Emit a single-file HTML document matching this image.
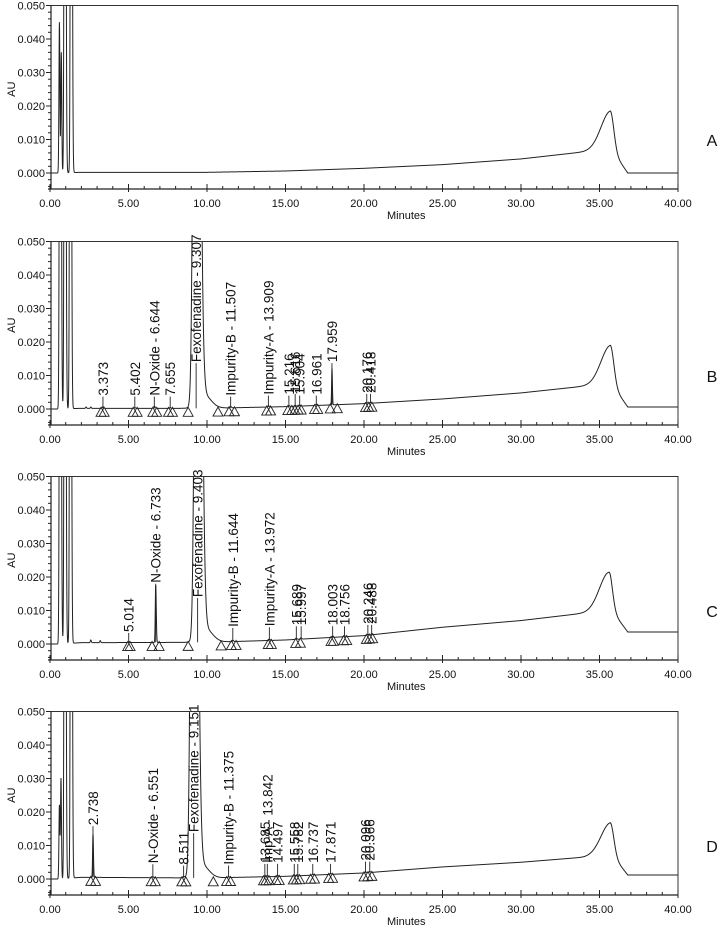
<!DOCTYPE html>
<html><head><meta charset="utf-8"><style>
html,body{margin:0;padding:0;background:#fff;}
svg{display:block;font-family:"Liberation Sans",sans-serif;}
</style></head><body>
<svg id="chart" width="724" height="925" viewBox="0 0 724 925" xmlns="http://www.w3.org/2000/svg"></svg>
<script>
const panelNames = ['A','B','C','D'];
const knotT = [0,0.5,2,10,15,20,25,30,34,35.7,36.8,40];
const A_knot = [0,0,0.0002,0.0002,0.0006,0.0014,0.0025,0.0042,0.0063,0.0075,0.0,0.0];
const B_knot = [0,0,0.0002,0.0002,0.0007,0.0016,0.003,0.0048,0.0068,0.008,0.0006,0.0006];
const C_knot = [0,0,0.0004,0.0005,0.0012,0.0025,0.005,0.007,0.0092,0.0105,0.0036,0.0036];
const D_knot = [0,0,0.0005,0.0003,0.0008,0.0018,0.0036,0.005,0.0065,0.0078,0.0012,0.0012];

const A_peakT = [0.6,0.72,0.95,1.35,35.7];
const A_peakH = [0.045,0.036,0.3,0.3,0.011];
const A_sL = [0.03,0.03,0.04,0.04,0.6];
const A_sR = [0.03,0.03,0.05,0.05,0.22];

const B_peakT = [0.65,0.95,1.3,2.3,2.6,3.373,5.402,6.644,7.655,9.307,9.8,11.507,13.909,15.216,15.616,15.904,16.961,17.959,20.176,20.418,35.7];
const B_peakH = [0.3,0.3,0.3,0.0004,0.0004,0.0005,0.0002,0.0006,0.0002,0.3,0.004,0.0004,0.0004,0.0003,0.0003,0.0003,0.0004,0.011,0.0003,0.0003,0.011];
const B_sL = [0.04,0.04,0.04,0.03,0.03,0.05,0.05,0.05,0.05,0.14,0.4,0.05,0.05,0.05,0.05,0.05,0.05,0.022,0.05,0.05,0.6];
const B_sR = [0.05,0.05,0.05,0.03,0.03,0.05,0.05,0.05,0.05,0.2,0.45,0.05,0.05,0.05,0.05,0.05,0.05,0.028,0.05,0.05,0.22];

const C_peakT = [0.65,0.95,1.3,2.6,3.2,5.014,6.733,9.403,9.9,11.644,13.972,15.689,15.997,18.003,18.756,20.246,20.488,35.6];
const C_peakH = [0.3,0.3,0.3,0.0008,0.0006,0.0003,0.0172,0.3,0.004,0.0004,0.0004,0.0003,0.0003,0.0003,0.0003,0.0003,0.0003,0.011];
const C_sL = [0.04,0.04,0.04,0.03,0.03,0.05,0.028,0.14,0.4,0.05,0.05,0.05,0.05,0.05,0.05,0.05,0.05,0.6];
const C_sR = [0.05,0.05,0.05,0.03,0.03,0.05,0.035,0.2,0.45,0.05,0.05,0.05,0.05,0.05,0.05,0.05,0.05,0.22];

const D_peakT = [0.6,0.7,0.95,1.35,2.738,6.551,8.511,9.151,9.65,11.375,13.685,13.842,14.497,15.558,15.782,16.737,17.871,20.096,20.366,35.7];
const D_peakH = [0.022,0.03,0.3,0.3,0.013,0.0003,0.0004,0.3,0.004,0.0003,0.0003,0.0003,0.0003,0.0003,0.0003,0.0003,0.0003,0.0003,0.0003,0.009];
const D_sL = [0.03,0.03,0.04,0.04,0.025,0.05,0.05,0.14,0.4,0.05,0.05,0.05,0.05,0.05,0.05,0.05,0.05,0.05,0.05,0.6];
const D_sR = [0.03,0.03,0.05,0.05,0.03,0.05,0.05,0.2,0.45,0.05,0.05,0.05,0.05,0.05,0.05,0.05,0.05,0.05,0.05,0.22];

const A_labT = [];
const A_lab = [];
const A_labH = [];
const A_marks = [];

const B_labT = [3.373,5.402,6.644,7.655,9.307,11.507,13.909,15.216,15.616,15.904,16.961,17.959,20.176,20.418];
const B_lab = ['3.373','5.402','N-Oxide - 6.644','7.655','Fexofenadine - 9.307','Impurity-B - 11.507','Impurity-A - 13.909','15.216','15.616','15.904','16.961','17.959','20.176','20.418'];
const B_labH = [0.0037,0.0037,0.0037,0.0037,0.0137,0.0037,0.004,0.004,0.0045,0.004,0.004,0.0137,0.0045,0.0045];
const B_marks = [3.25,3.45,5.3,5.55,6.55,6.8,7.55,7.8,8.8,10.7,11.4,11.75,13.8,14.05,15.15,15.4,15.6,15.8,16.0,16.85,17.05,17.85,18.3,20.1,20.3,20.5];

const C_labT = [5.014,6.733,9.403,11.644,13.972,15.689,15.997,18.003,18.756,20.246,20.488];
const C_lab = ['5.014','N-Oxide - 6.733','Fexofenadine - 9.403','Impurity-B - 11.644','Impurity-A - 13.972','15.689','15.997','18.003','18.756','20.246','20.488'];
const C_labH = [0.0033,0.018,0.0137,0.0048,0.005,0.0053,0.0053,0.0053,0.0053,0.0057,0.0057];
const C_marks = [4.95,5.1,6.5,6.95,8.8,10.9,11.55,11.85,13.9,14.1,15.65,15.95,17.9,18.05,18.7,18.9,20.15,20.35,20.55];

const D_labT = [2.738,6.551,8.511,9.151,11.375,13.685,13.842,14.497,15.558,15.782,16.737,17.871,20.096,20.366];
const D_lab = ['2.738','N-Oxide - 6.551','8.511','Fexofenadine - 9.151','Impurity-B - 11.375','13.685','Imp-A - 13.842','14.497','15.558','15.782','16.737','17.871','20.096','20.366'];
const D_labH = [0.0158,0.0044,0.004,0.0137,0.004,0.0045,0.0045,0.0045,0.0045,0.0045,0.0045,0.0045,0.0052,0.0052];
const D_marks = [2.6,2.9,6.45,6.7,8.4,8.65,10.4,11.25,11.5,13.6,13.75,13.95,14.4,14.6,15.5,15.7,15.9,16.6,16.85,17.75,18.0,20.0,20.25,20.5];

const xTicks = [0,5,10,15,20,25,30,35,40];
const xTickLabels = ['0.00','5.00','10.00','15.00','20.00','25.00','30.00','35.00','40.00'];
const yTicks = [0,0.01,0.02,0.03,0.04,0.05];
const yTickLabels = ['0.000','0.010','0.020','0.030','0.040','0.050'];

const P = {
  A:{knot:A_knot,pt:A_peakT,ph:A_peakH,sl:A_sL,sr:A_sR,lt:A_labT,l:A_lab,lh:A_labH,m:A_marks},
  B:{knot:B_knot,pt:B_peakT,ph:B_peakH,sl:B_sL,sr:B_sR,lt:B_labT,l:B_lab,lh:B_labH,m:B_marks},
  C:{knot:C_knot,pt:C_peakT,ph:C_peakH,sl:C_sL,sr:C_sR,lt:C_labT,l:C_lab,lh:C_labH,m:C_marks},
  D:{knot:D_knot,pt:D_peakT,ph:D_peakH,sl:D_sL,sr:D_sR,lt:D_labT,l:D_lab,lh:D_labH,m:D_marks}
};

const svg = document.getElementById('chart');
const NS = 'http://www.w3.org/2000/svg';
const X0 = 50, XS = 15.7, YS = 167.5/0.05;
const panelZero = [173,409,644,879];
function xs(t){ return X0 + t*XS; }
function mk(tag, attrs, parent){
  const e = document.createElementNS(NS, tag);
  for (const k in attrs) e.setAttribute(k, attrs[k]);
  (parent||svg).appendChild(e);
  return e;
}
function baseAt(knot, t){
  for (let i=0;i<knotT.length-1;i++){
    if (t>=knotT[i] && t<=knotT[i+1]){
      const f=(t-knotT[i])/(knotT[i+1]-knotT[i]);
      return knot[i]+f*(knot[i+1]-knot[i]);
    }
  }
  return knot[knot.length-1];
}
function signal(d, t){
  let v = baseAt(d.knot, t);
  for (let i=0;i<d.pt.length;i++){
    const dx = t-d.pt[i];
    const s = dx<0 ? d.sl[i] : d.sr[i];
    v += d.ph[i]*Math.exp(-dx*dx/(2*s*s));
  }
  return v;
}

panelNames.forEach((name, pi) => {
  const d = P[name];
  const y0 = panelZero[pi];
  const ys = v => y0 - v*YS;
  const yTop = ys(0.05);
  const axisY = y0 + 16;
  const g = mk('g', {});
  
  

  const clipId = 'clip' + name;
  const cp = mk('clipPath', {id: clipId}, g);
  mk('rect', {x: X0, y: yTop, width: xs(40)-X0, height: axisY-yTop}, cp);

  const frame = mk('path', {d:`M${X0+1},${yTop}H${xs(40)}V${axisY}`, fill:'none', stroke:'#333', 'stroke-width':1}, g);
  
  
  const yAxis = mk('line', {x1:X0+1, y1:yTop, x2:X0+1, y2:axisY, stroke:'#222', 'stroke-width':1.2}, g);
  
  
  const xAxis = mk('line', {x1:X0-2, y1:axisY, x2:xs(40), y2:axisY, stroke:'#222', 'stroke-width':1.2}, g);
  
  

  for (let t=0;t<=40;t++){
    const major = t%5===0;
    mk('line', {x1:xs(t), x2:xs(t), y1:axisY-(major?5:3), y2:axisY+(major?3:0), stroke:'#222', 'stroke-width':1}, g);
  }
  xTicks.forEach((t,i)=>{
    const tx = mk('text', {x:xs(t), y:axisY+18, 'font-size':11, 'text-anchor':'middle', fill:'#111'}, g);
    tx.textContent = xTickLabels[i];
    
    
  });
  const xt = mk('text', {x:xs(22.5)+3, y:axisY+30, 'font-size':11, 'text-anchor':'middle', fill:'#111'}, g);
  xt.textContent = 'Minutes';
  
  

  for (let k=-2;k<=25;k++){
    const v=k*0.002;
    const major = k%5===0;
    mk('line', {x1:X0+1-(major?5:3), x2:X0+1, y1:ys(v), y2:ys(v), stroke:'#222', 'stroke-width':1}, g);
  }
  yTicks.forEach((v,i)=>{
    const tx = mk('text', {x:X0-5, y:ys(v)+4, 'font-size':11, 'text-anchor':'end', fill:'#111'}, g);
    tx.textContent = yTickLabels[i];
    
    
  });
  const yt = mk('text', {x:0, y:0, 'font-size':11, 'text-anchor':'middle', fill:'#111', transform:`translate(15,${ys(0.025)}) rotate(-90)`}, g);
  yt.textContent = 'AU';
  
  

  let dstr = '';
  for (let t=0;t<=40.0001;t+=0.01){
    const v = signal(d,t);
    dstr += (t===0?'M':'L') + xs(t).toFixed(2) + ',' + ys(v).toFixed(2);
  }
  const trace = mk('path', {d:dstr, fill:'none', stroke:'#222', 'stroke-width':1, 'clip-path':`url(#${clipId})`}, g);
  
  

  d.m.forEach(t=>{
    const yb = ys(baseAt(d.knot,t));
    const cx = xs(t);
    const tri = mk('path', {d:`M${cx},${yb-1}L${cx-5},${yb+8}L${cx+5},${yb+8}Z`, fill:'none', stroke:'#222', 'stroke-width':0.9}, g);
    
    
  });

  d.lt.forEach((t,i)=>{
    const cx = xs(t);
    const yb = ys(baseAt(d.knot,t));
    const yl = ys(d.lh[i]);
    mk('line', {x1:cx, x2:cx, y1:yl, y2:yb, stroke:'#222', 'stroke-width':0.9}, g);
    const tx = mk('text', {x:0, y:0, 'font-size':13.5, fill:'#111', transform:`translate(${cx+5},${yl-1}) rotate(-90)`}, g);
    tx.textContent = d.l[i];
    
    
  });

  const pl = mk('text', {x:712, y:y0-27, 'font-size':16, 'text-anchor':'middle', fill:'#111'}, g);
  pl.textContent = name;
  
  
});
</script>
</body></html>
